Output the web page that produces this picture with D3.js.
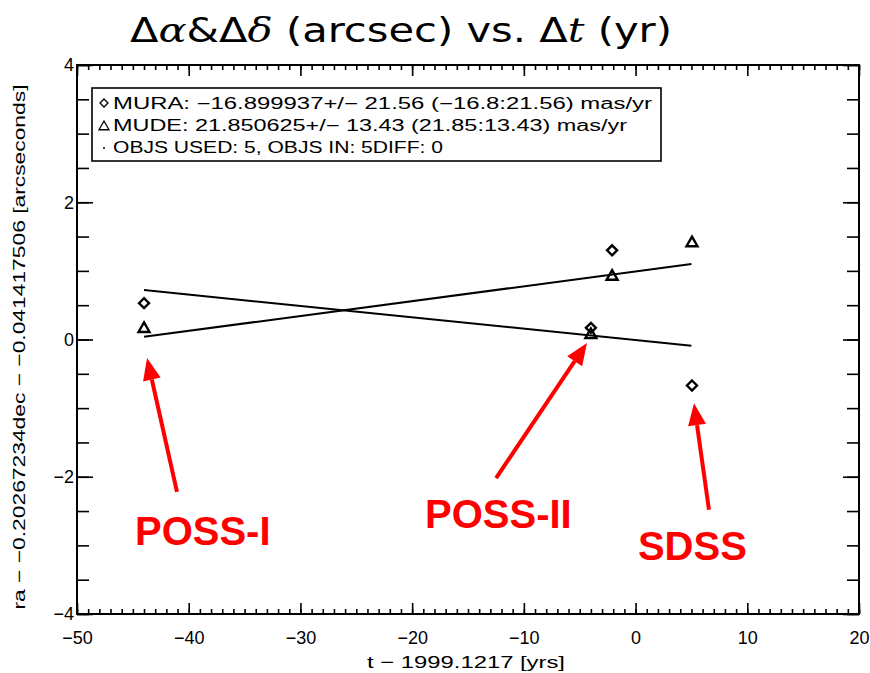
<!DOCTYPE html>
<html><head><meta charset="utf-8">
<script src="https://cdn.jsdelivr.net/npm/d3@7"></script>
<style>body{margin:0;background:#fff}svg{display:block}</style>
</head><body>
<svg id="c" width="870" height="673"></svg>
<script>
// ---- data ----
const epochs = [-44, -4, -2.1, 5.05];          // t - 1999.1217 [yrs]
const raOffsets = [0.53, 0.17, 1.30, -0.67];   // diamonds (MURA)
const deOffsets = [0.17, 0.08, 0.93, 1.42];    // triangles (MUDE)
const fitEpochs = [-44, 5];
const fitRA = [0.72, -0.09];
const fitDE = [0.04, 1.10];
const xMajorTicks = [-50, -40, -30, -20, -10, 0, 10, 20];
const yMajorTicks = [-4, -2, 0, 2, 4];
const legendLines = [
  "MURA: \u221216.899937+/\u2212 21.56 (\u221216.8:21.56) mas/yr",
  "MUDE: 21.850625+/\u2212 13.43 (21.85:13.43) mas/yr",
  "OBJS USED: 5, OBJS IN: 5DIFF: 0"
];
const annotations = [
  {label: "POSS-I",  from: [-41.05, -2.22], to: [-43.73, -0.27]},
  {label: "POSS-II", from: [-12.49, -2.02], to: [-4.35, -0.05]},
  {label: "SDSS",    from: [6.57, -2.48],   to: [5.23, -0.93]}
];
const annoLabelPos = [[-44.81, -2.99], [-18.85, -2.75], [0.21, -3.21]];

// ---- layout ----
const svg = d3.select("#c");
const L = 77, R = 859, T = 65, B = 614;
const x = d3.scaleLinear().domain([-50, 20]).range([L, R]);
const y = d3.scaleLinear().domain([-4, 4]).range([B, T]);

// title
const title = svg.append("text").attr("x", 130).attr("y", 42)
  .attr("font-family", "DejaVu Sans, sans-serif").attr("font-size", 33).attr("fill", "#000")
  .attr("textLength", 542).attr("lengthAdjust", "spacingAndGlyphs");
title.append("tspan").text("\u0394");
title.append("tspan").attr("font-family", "DejaVu Serif, serif").attr("font-style", "italic").text("\u03b1");
title.append("tspan").text("&\u0394");
title.append("tspan").attr("font-family", "DejaVu Serif, serif").attr("font-style", "italic").text("\u03b4");
title.append("tspan").text(" (arcsec) vs.  \u0394");
title.append("tspan").attr("font-family", "DejaVu Serif, serif").attr("font-style", "italic").text("t");
title.append("tspan").text(" (yr)");

// frame
svg.append("rect").attr("x", L).attr("y", T).attr("width", R - L).attr("height", B - T)
  .attr("fill", "none").attr("stroke", "#000").attr("stroke-width", 2);

const xMinor = d3.range(-50, 21, 1);
const yMinor = d3.range(-4, 4.01, 0.5);
function styleAxis(g){ g.select(".domain").remove(); g.selectAll("line").attr("stroke","#000").attr("stroke-width",1.6); }

// bottom axis
svg.append("g").attr("transform", `translate(0,${B})`)
  .call(d3.axisBottom(x).tickValues(xMinor).tickSize(-5).tickFormat(""))
  .call(styleAxis);
svg.append("g").attr("transform", `translate(0,${B})`)
  .call(d3.axisBottom(x).tickValues(xMajorTicks).tickSize(-11).tickPadding(17)
        .tickFormat(d => d < 0 ? "\u2212" + Math.abs(d) : d))
  .call(styleAxis)
  .call(g => g.selectAll("text").attr("font-family","Liberation Sans, Arial, sans-serif").attr("font-size",18).attr("fill","#000"));
// top axis
svg.append("g").attr("transform", `translate(0,${T})`)
  .call(d3.axisTop(x).tickValues(xMinor).tickSize(-5).tickFormat("")).call(styleAxis);
svg.append("g").attr("transform", `translate(0,${T})`)
  .call(d3.axisTop(x).tickValues(xMajorTicks).tickSize(-11).tickFormat("")).call(styleAxis);
// left axis
svg.append("g").attr("transform", `translate(${L},0)`)
  .call(d3.axisLeft(y).tickValues(yMinor).tickSize(-12).tickFormat("")).call(styleAxis);
svg.append("g").attr("transform", `translate(${L},0)`)
  .call(d3.axisLeft(y).tickValues(yMajorTicks).tickSize(-16).tickPadding(20)
        .tickFormat(d => d < 0 ? "\u2212" + Math.abs(d) : d))
  .call(styleAxis)
  .call(g => g.selectAll("text").attr("font-family","Liberation Sans, Arial, sans-serif").attr("font-size",18).attr("fill","#000").attr("x",-3));
// right axis
svg.append("g").attr("transform", `translate(${R},0)`)
  .call(d3.axisRight(y).tickValues(yMinor).tickSize(-12).tickFormat("")).call(styleAxis);
svg.append("g").attr("transform", `translate(${R},0)`)
  .call(d3.axisRight(y).tickValues(yMajorTicks).tickSize(-16).tickFormat("")).call(styleAxis);

// axis titles
svg.append("text").attr("x", 466).attr("y", 668).attr("text-anchor","middle")
  .attr("font-family","Liberation Sans, Arial, sans-serif").attr("font-size",17)
  .attr("textLength",198).attr("lengthAdjust","spacingAndGlyphs")
  .text("t \u2212 1999.1217 [yrs]");
svg.append("text").attr("transform","translate(25,347) rotate(-90)").attr("text-anchor","middle")
  .attr("font-family","Liberation Sans, Arial, sans-serif").attr("font-size",17)
  .attr("textLength",525).attr("lengthAdjust","spacingAndGlyphs")
  .text("ra \u2212 \u22120.20267234dec \u2212 \u22120.041417506 [arcseconds]");

// legend
svg.append("rect").attr("x",92).attr("y",88).attr("width",569).attr("height",73)
  .attr("fill","#fff").attr("stroke","#000").attr("stroke-width",1.6);
const legendY = [109, 131, 153];
const legendLen = [539, 514, 330];
legendLines.forEach((t,i) => {
  svg.append("text").attr("x",113).attr("y",legendY[i])
    .attr("font-family","Liberation Sans, Arial, sans-serif").attr("font-size",16)
    .attr("textLength",legendLen[i]).attr("lengthAdjust","spacingAndGlyphs").text(t);
});
const diamond = (cx,cy,s) => `M${cx},${cy-s}L${cx+s},${cy}L${cx},${cy+s}L${cx-s},${cy}Z`;
const triangle = (cx,cy,s) => `M${cx},${cy-s}L${cx+s},${cy+s*0.75}L${cx-s},${cy+s*0.75}Z`;
svg.append("path").attr("d", diamond(104,103,4)).attr("fill","none").attr("stroke","#000").attr("stroke-width",1.3);
svg.append("path").attr("d", triangle(104,126,5)).attr("fill","none").attr("stroke","#000").attr("stroke-width",1.3);
svg.append("circle").attr("cx",104).attr("cy",148).attr("r",1).attr("fill","#000");

// fit lines
const line = d3.line().x(d => x(d[0])).y(d => y(d[1]));
svg.append("path").datum(fitEpochs.map((e,i)=>[e, fitRA[i]])).attr("d", line)
  .attr("fill","none").attr("stroke","#000").attr("stroke-width",2);
svg.append("path").datum(fitEpochs.map((e,i)=>[e, fitDE[i]])).attr("d", line)
  .attr("fill","none").attr("stroke","#000").attr("stroke-width",2);

// points
epochs.forEach((e,i) => {
  svg.append("path").attr("d", diamond(x(e), y(raOffsets[i]), 5))
    .attr("fill","none").attr("stroke","#000").attr("stroke-width",2.4);
  svg.append("path").attr("d", triangle(x(e), y(deOffsets[i]), 5.5))
    .attr("fill","none").attr("stroke","#000").attr("stroke-width",2.4);
});

// red annotations
const red = "#ff0000";
annotations.forEach((a,i) => {
  const x1 = x(a.from[0]), y1 = y(a.from[1]), x2 = x(a.to[0]), y2 = y(a.to[1]);
  const ang = Math.atan2(y2-y1, x2-x1);
  const hl = 22, hw = 9;
  const bx = x2 - hl*Math.cos(ang), by = y2 - hl*Math.sin(ang);
  svg.append("line").attr("x1",x1).attr("y1",y1).attr("x2",bx).attr("y2",by)
    .attr("stroke",red).attr("stroke-width",4);
  const px = -Math.sin(ang), py = Math.cos(ang);
  svg.append("path").attr("d",`M${x2},${y2}L${bx+hw*px},${by+hw*py}L${bx-hw*px},${by-hw*py}Z`).attr("fill",red);
  svg.append("text").attr("x", x(annoLabelPos[i][0])).attr("y", y(annoLabelPos[i][1]))
    .attr("font-family","Liberation Sans, Arial, sans-serif").attr("font-weight","bold")
    .attr("font-size",40).attr("fill",red).text(a.label);
});
</script>
</body></html>
